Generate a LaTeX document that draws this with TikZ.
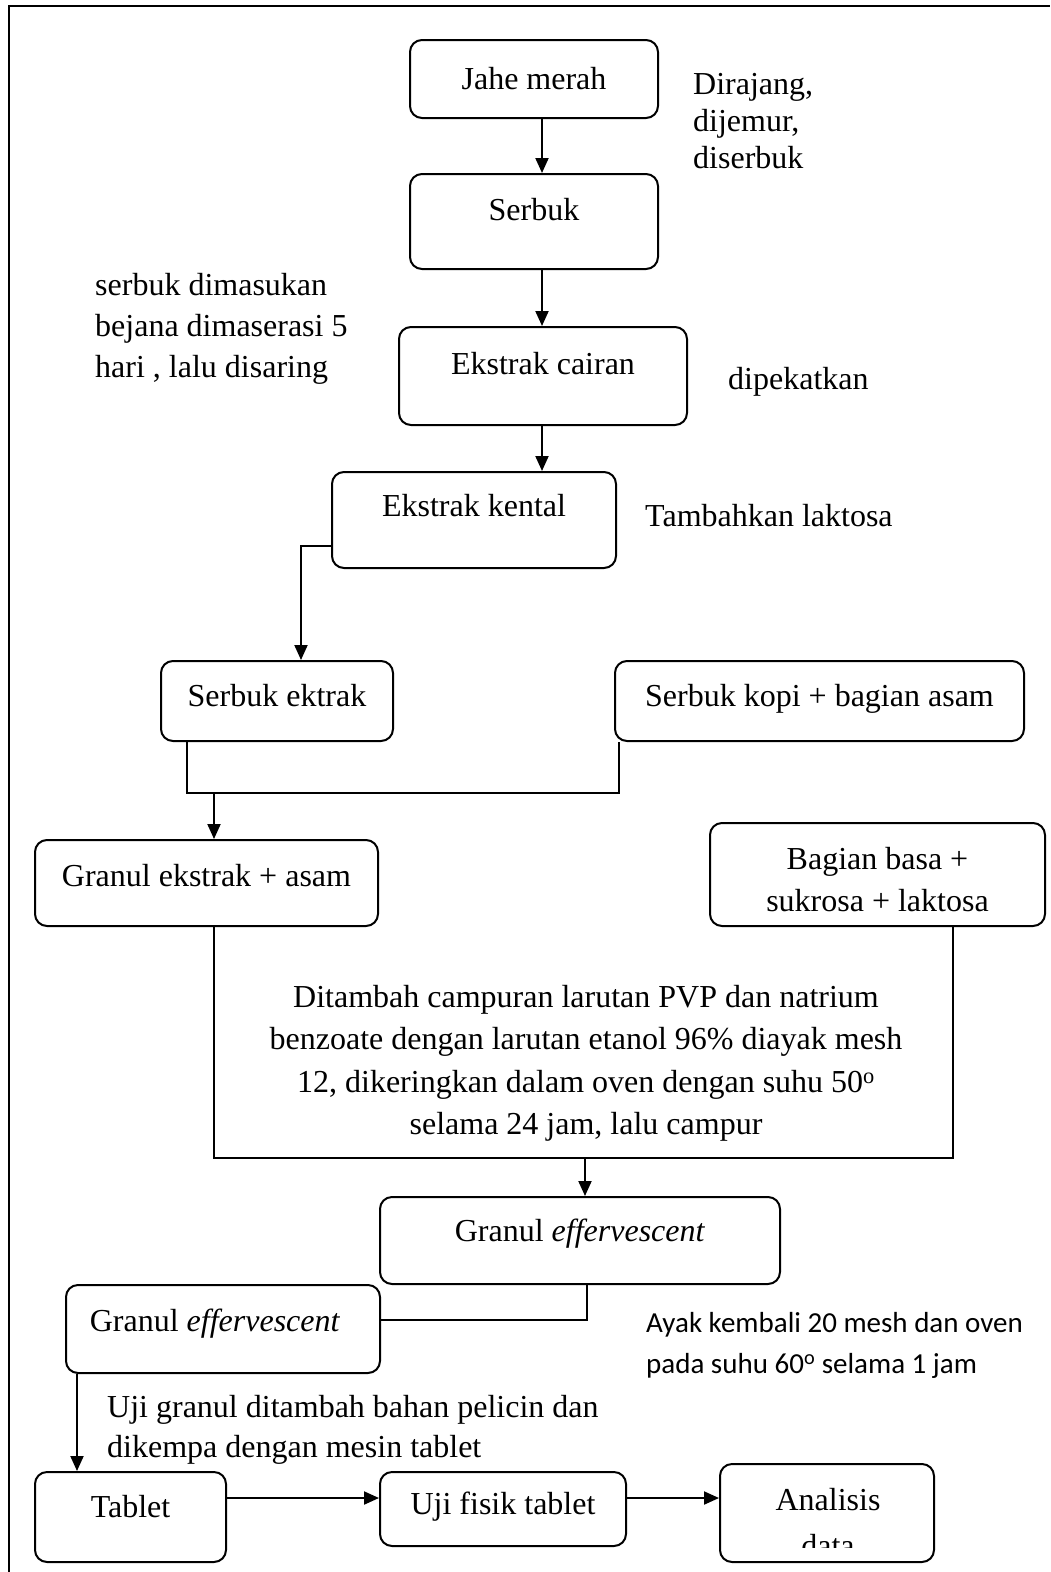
\documentclass[tikz,border=0pt]{standalone}
\usepackage{fontspec}
\setmainfont{Liberation Serif}
\newfontfamily\calibrifont{Carlito}
\usetikzlibrary{arrows.meta}

\begin{document}
\begin{tikzpicture}[x=1pt,y=-1pt,
  box/.style={draw, line width=2pt, rounded corners=12pt, inner sep=0pt, align=center},
  lift/.style={text height=22pt, text depth=#1pt},
  arr/.style={line width=2pt, -{Triangle[length=15pt,width=13pt]}},
  link/.style={line width=2pt},
  note/.style={anchor=north west, inner sep=0pt, align=left},
  font=\fontsize{32}{42}\selectfont]

\useasboundingbox (0,0) rectangle (1050,1572);
\draw[line width=2.5pt] (9,1572) -- (9,6) -- (1050,6);

\node[box, lift=2, minimum width=248pt, minimum height=78pt] (jahe) at (534,79) {Jahe merah};
\node[box, lift=25, minimum width=248pt, minimum height=95pt] (serbuk) at (534,221.5) {Serbuk};
\node[box, lift=26, minimum width=288pt, minimum height=98pt] (cairan) at (543,376) {Ekstrak cairan};
\node[box, lift=30, minimum width=284pt, minimum height=96pt] (kental) at (474,520) {Ekstrak kental};
\node[box, lift=12, minimum width=232pt, minimum height=80pt] (ektrak) at (277,701) {Serbuk ektrak};
\node[box, lift=12, minimum width=409pt, minimum height=80pt] (kopi) at (819.5,701) {Serbuk kopi + bagian asam};
\node[box, lift=16, minimum width=343pt, minimum height=86pt] (granul) at (206.5,883) {Granul ekstrak + asam};
\node[box, text height=73pt, text depth=0pt, minimum width=335pt, minimum height=103pt] (basa) at (877.5,874.5) {Bagian basa +\\sukrosa + laktosa};
\node[box, lift=20, minimum width=400pt, minimum height=87pt] (eff1) at (580,1240.5) {Granul \textit{effervescent}};
\node[box, lift=18, minimum width=314pt, minimum height=88pt] (eff2) at (223,1329) {Granul \textit{effervescent}\hspace*{16pt}};
\node[box, lift=22, minimum width=191pt, minimum height=90pt] (tablet) at (130.5,1517) {Tablet};
\node[box, lift=12, minimum width=246pt, minimum height=74pt] (uji) at (503,1509) {Uji fisik tablet};
\node[box, minimum width=214pt, minimum height=98pt] (analisis) at (827,1513) {};
\begin{scope}
\clip (analisis.north west) rectangle (934,1547);
\node[inner sep=0pt, align=center, font=\fontsize{32}{46}\selectfont] (analisistext) at (828,1523) {Analisis\\data};
\end{scope}

\node[note, font=\fontsize{32}{37}\selectfont] (potong) at (693,73) {Dirajang,\\dijemur,\\diserbuk};
\node[note, font=\fontsize{32}{41}\selectfont] (maserasi) at (95,273) {serbuk dimasukan\\bejana dimaserasi 5\\hari , lalu disaring};
\node[note] (pekat) at (728,367) {dipekatkan};
\node[note] (laktosa) at (645,504) {Tambahkan laktosa};
\node[anchor=north, inner sep=0pt, align=center, font=\fontsize{32}{42.5}\selectfont] (campur) at (586,985) {Ditambah campuran larutan PVP dan natrium\\benzoate dengan larutan etanol 96\% diayak mesh\\12, dikeringkan dalam oven dengan suhu 50\textsuperscript{o}\\selama 24 jam, lalu campur};
\node[note, font=\calibrifont\fontsize{29}{41}\selectfont] (ayak) at (646,1312) {Ayak kembali 20 mesh dan oven\\pada suhu 60\textsuperscript{o} selama 1 jam};
\node[note, font=\fontsize{32}{40}\selectfont] (kempa) at (107,1395) {Uji granul ditambah bahan pelicin dan\\dikempa dengan mesin tablet};

\coordinate (spine) at (542,0);
\draw[arr] (jahe.south -| spine) -- (serbuk.north -| spine);
\draw[arr] (serbuk.south -| spine) -- (cairan.north -| spine);
\draw[arr] (cairan.south -| spine) -- (kental.north -| spine);
\coordinate (knee) at (301,546);
\draw[arr] (kental.west |- knee) -| (ektrak.north -| knee);
\coordinate (mergeL) at (187,793);
\coordinate (mergeR) at (619,793);
\coordinate (drop1) at (214,793);
\draw[link] (ektrak.south -| mergeL) -- (mergeL) -- (mergeR) -- (kopi.south -| mergeR);
\draw[arr] (drop1) -- (granul.north -| drop1);
\coordinate (mergeB) at (214,1158);
\coordinate (mergeC) at (953,1158);
\coordinate (drop2) at (585,1158);
\draw[link] (granul.south -| mergeB) -- (mergeB) -- (mergeC) -- (basa.south -| mergeC);
\draw[arr] (drop2) -- (eff1.north -| drop2);
\coordinate (turn) at (587,1320);
\draw[link] (eff1.south -| turn) -- (turn) -- (eff2.east |- turn);
\coordinate (drop3) at (77,0);
\draw[arr] (eff2.south -| drop3) -- (tablet.north -| drop3);
\coordinate (row) at (0,1498);
\draw[arr] (tablet.east |- row) -- (uji.west |- row);
\draw[arr] (uji.east |- row) -- (analisis.west |- row);
\end{tikzpicture}
\end{document}
